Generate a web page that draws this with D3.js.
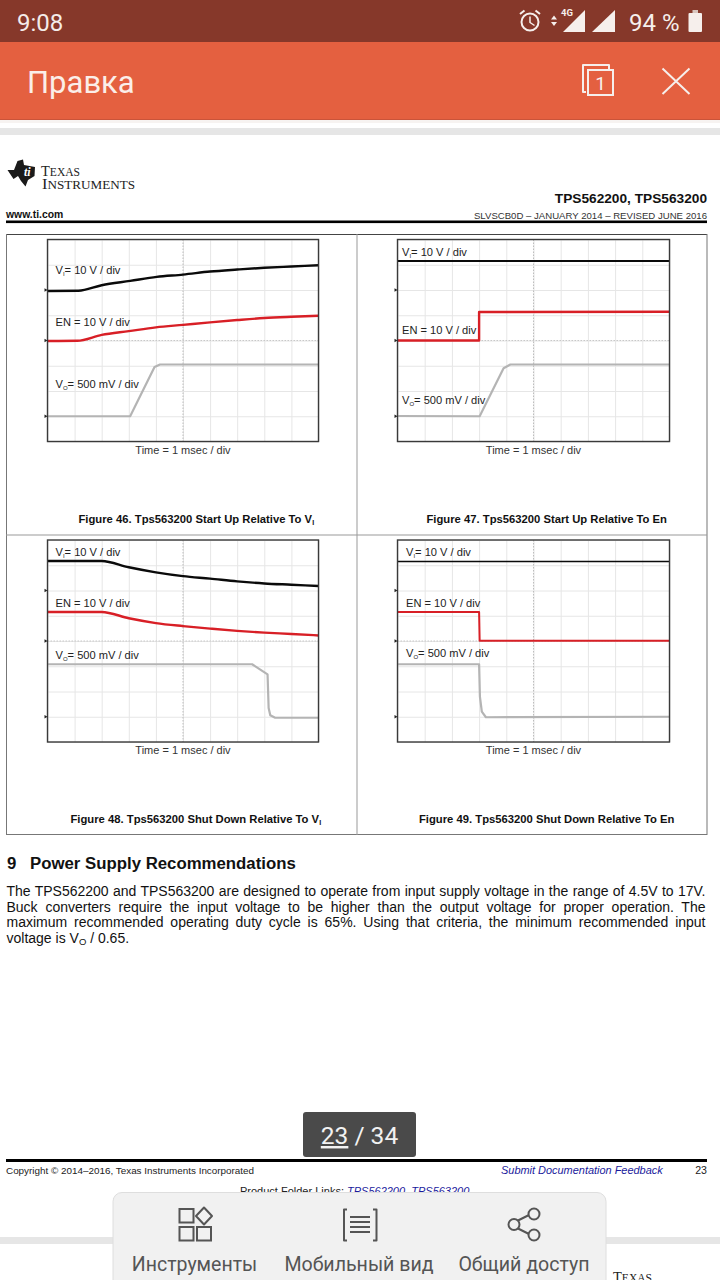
<!DOCTYPE html>
<html><head><meta charset="utf-8">
<script src="https://cdn.jsdelivr.net/npm/d3@7"></script>
<style>html,body{margin:0;padding:0;background:#fff;overflow:hidden}svg{display:block}</style>
</head><body><svg id="c" width="720" height="1280"></svg>
<script>
// Values are [time in div, level in div from bottom of the scope screen]
const fig46_VI=[[0,5.96],[1.14,5.97],[2,6.19],[3.05,6.36],[4.03,6.52],[5,6.61],[6,6.73],[7,6.81],[8,6.88],[9,6.93],[10,6.98]];
const fig46_EN=[[0,3.98],[1.1,3.99],[2,4.22],[3,4.37],[4,4.52],[5,4.62],[6,4.72],[7,4.81],[8,4.89],[9,4.94],[10,4.98]];
const fig46_VO=[[0,1],[3.05,1],[3.95,2.95],[4.15,3.05],[10,3.05]];
const fig47_VI=[[0,7.15],[10,7.15]];
const fig47_EN=[[0,4],[3,4],[3,5.13],[10,5.14]];
const fig47_VO=[[0,1.01],[3.02,1],[3.9,2.9],[4.15,3.05],[10,3.05]];
const fig48_VI=[[0,7.17],[2,7.17],[3,6.92],[4,6.72],[5,6.57],[6,6.47],[7,6.36],[8,6.28],[9,6.23],[10,6.18]];
const fig48_EN=[[0,5.15],[2,5.15],[3,4.9],[4,4.71],[5,4.59],[6,4.49],[7,4.4],[8,4.33],[9,4.28],[10,4.22]];
const fig48_VO=[[0,3.08],[7.55,3.08],[8.12,2.68],[8.16,1.35],[8.22,1.06],[8.4,0.96],[10,0.96]];
const fig49_VI=[[0,7.15],[10,7.15]];
const fig49_EN=[[0,5.15],[3,5.15],[3.02,4.01],[10,4.01]];
const fig49_VO=[[0,3.08],[3,3.08],[3.03,1.8],[3.1,1.2],[3.25,0.98],[10,1]];
const refMarks=[6,4,1];
const timeTicks=[0,1,2,3,4,5,6,7,8,9,10];
const levelTicks=[0,1,2,3,4,5,6,7,8];
const minorTicks=d3.range(0,10.01,0.2);
const minorLevels=d3.range(0,8.01,0.2);

const svg=d3.select('#c');
const SANS='"Liberation Sans",Arial,sans-serif', RB='Roboto,sans-serif', SERIF='"Liberation Serif",serif';
function rect(x,y,w,h,f,r){return svg.append('rect').attr('x',x).attr('y',y).attr('width',w).attr('height',h).attr('fill',f).attr('rx',r||0);}
function txt(s,x,y,size,o){o=o||{};const t=svg.append('text').attr('x',x).attr('y',y).attr('font-size',size)
 .attr('font-family',o.f||SANS).attr('fill',o.c||'#222').attr('text-anchor',o.a||'start');
 if(o.b)t.attr('font-weight','bold'); if(o.i)t.attr('font-style','italic'); t.text(s); return t;}
function path(d,o){o=o||{};return svg.append('path').attr('d',d).attr('fill',o.fill||'none').attr('stroke',o.s||'none').attr('stroke-width',o.w||1).attr('stroke-linejoin','round');}

// Page
rect(0,0,720,1280,'#fff');
rect(0,0,720,42,'#86382a');
rect(0,42,720,78,'#e46040');
rect(0,119,720,1,'#c9543a');
rect(0,120,720,3,'#f7f3f1');
rect(0,128,720,7,'#e6e6e6');

// Status bar
txt('9:08',17,31,24,{f:RB,c:'#f4ece9'});
const W='#f6efec';
svg.append('circle').attr('cx',530).attr('cy',22).attr('r',8.5).attr('fill','none').attr('stroke',W).attr('stroke-width',2);
path('M530 16.5V22.5L534.5 25.5',{s:W,w:1.5});
path('M520 14L524.5 10.5M540 14L535.5 10.5',{s:W,w:2});
path('M551 19.5L554 15.5L557 19.5ZM551 22L554 26L557 22Z',{fill:W});
path('M563 32L585 10V32Z',{fill:W});
txt('4G',561,16,9.5,{f:RB,c:W,b:1});
path('M592 32L615 10V32Z',{fill:W});
txt('94 %',629,31,24,{f:RB,c:W});
rect(688.5,13,13.5,19,W,1); rect(692.5,10,5.5,3,'#d9c6bf');

// Toolbar
txt('Правка',27,93,31,{f:RB,c:'#fbeee9'});
path('M586 92H583V65H609V69',{s:W,w:2});
svg.append('rect').attr('x',588).attr('y',70).attr('width',25).attr('height',25).attr('fill','none').attr('stroke',W).attr('stroke-width',2);
txt('1',600.5,90,19,{f:RB,c:W,a:'middle'});
path('M662.5 68.5L689.5 94M689.5 68.5L662.5 94',{s:W,w:2});

// Logo and header
path('M7.5 170L14 170L17.5 161L23 159.5L24 165L35 167L34.5 176L28 180L25.5 186.5L21 181L18 176L13.5 179Z',{fill:'#1a1a1a'});
txt('ti',24,176,12,{f:SERIF,c:'#fff',b:1,i:1});
function logo(x,y,a,b,big,small,wid){const t=svg.append('text').attr('x',x).attr('y',y).attr('font-family',SERIF).attr('fill','#222')
 .attr('textLength',wid).attr('lengthAdjust','spacingAndGlyphs');
 t.append('tspan').attr('font-size',big).text(a); t.append('tspan').attr('font-size',small).text(b);}
logo(41,176,'T','EXAS',15,12,39);
logo(42,189,'I','NSTRUMENTS',15,12,93);
txt('TPS562200, TPS563200',707,203,13.7,{a:'end',b:1,c:'#111'});
txt('www.ti.com',6,218,10.4,{b:1,c:'#111'});
txt('SLVSCB0D – JANUARY 2014 – REVISED JUNE 2016',707,218.5,9.6,{a:'end',c:'#333'});
rect(6,220.5,701,2.6,'#000');

// Figure frame
rect(6,234,701,1,'#444');
rect(6,834,701,1,'#777');
rect(6,234,1,601,'#777'); rect(706.5,234,1,601,'#777');
rect(356.5,234,1,601,'#999');
rect(6,534.5,701,1,'#999');

function label(x,y,main,sub,rest){const t=svg.append('text').attr('x',x).attr('y',y).attr('font-family',SANS).attr('font-size',11.1).attr('fill','#222');
 t.append('tspan').text(main);
 if(sub){t.append('tspan').attr('font-size',6).attr('dy',2).text(sub); t.append('tspan').attr('dy',-2).text(rest);}
 return t;}

function scope(o){
 const g=svg.append('g');
 const x=d3.scaleLinear().domain([0,10]).range([o.x0,o.x1]);
 const y=d3.scaleLinear().domain([0,8]).range([o.y1,o.y0]);
 const gx=g.append('g').attr('transform',`translate(0,${o.y1})`).call(d3.axisBottom(x).tickValues(timeTicks).tickSize(-(o.y1-o.y0)).tickFormat(''));
 const gy=g.append('g').attr('transform',`translate(${o.x0},0)`).call(d3.axisLeft(y).tickValues(levelTicks).tickSize(-(o.x1-o.x0)).tickFormat(''));
 [gx,gy].forEach(a=>{a.select('.domain').remove();a.selectAll('line').attr('stroke','#e6e6e6').attr('stroke-width',1);});
 g.append('line').attr('x1',x(5)).attr('x2',x(5)).attr('y1',o.y0).attr('y2',o.y1).attr('stroke','#bdbdbd').attr('stroke-dasharray','1.5 1.5');
 g.append('line').attr('x1',o.x0).attr('x2',o.x1).attr('y1',y(4)).attr('y2',y(4)).attr('stroke','#c8c8c8').attr('stroke-dasharray','1.5 1.5');
 // traces
 const ln=d3.line().x(d=>x(d[0])).y(d=>y(d[1]));
 const tr=(data,c,w,smooth)=>g.append('path').attr('d',ln.curve(smooth?d3.curveMonotoneX:d3.curveLinear)(data)).attr('fill','none').attr('stroke',c).attr('stroke-width',w).attr('stroke-linejoin','round');
 tr(o.vo,'#b4b4b4',o.voW||2.2);
 tr(o.en,'#d81f26',o.enW||2.4,o.smooth);
 tr(o.vi,'#0a0a0a',o.viW||2.4,o.smooth);
 g.append('rect').attr('x',o.x0).attr('y',o.y0).attr('width',o.x1-o.x0).attr('height',o.y1-o.y0).attr('fill','none').attr('stroke','#3a3a3a').attr('stroke-width',1.4);
 g.append('g').selectAll('path').data(refMarks).join('path').attr('d',d=>`M${o.x0-3} ${y(d)-1.8}L${o.x0} ${y(d)}L${o.x0-3} ${y(d)+1.8}Z`).attr('fill','#222');
 label(o.lx,o.ly[0],'V','I','= 10 V / div');
 label(o.lx,o.ly[1],'EN = 10 V / div');
 label(o.lx,o.ly[2],'V','O','= 500 mV / div');
 txt('Time = 1 msec / div',(o.x0+o.x1)/2,o.ty,11,{a:'middle',c:'#333'});
 const c=svg.append('text').attr('x',o.cx).attr('y',o.cy).attr('font-family',SANS).attr('font-size',11.25).attr('font-weight','bold').attr('fill','#111');
 c.append('tspan').text(o.cap);
 if(o.capSub)c.append('tspan').attr('font-size',7).attr('dy',2).text(o.capSub);
}
scope({x0:47.5,x1:318.5,y0:239.5,y1:441.5,smooth:true,vi:fig46_VI,en:fig46_EN,vo:fig46_VO,lx:55.5,ly:[274,325.6,387.7],ty:454,cx:78.5,cy:523,cap:'Figure 46. Tps563200 Start Up Relative To V',capSub:'I'});
scope({x0:397.5,x1:669.5,y0:239.5,y1:441.5,vi:fig47_VI,en:fig47_EN,vo:fig47_VO,viW:2,lx:402,ly:[256,333.7,404],ty:454,cx:426.5,cy:523,cap:'Figure 47. Tps563200 Start Up Relative To En'});
scope({x0:47.5,x1:318.5,y0:540,y1:742,smooth:true,vi:fig48_VI,en:fig48_EN,vo:fig48_VO,lx:55.5,ly:[555.5,606.5,658.5],ty:754,cx:70.5,cy:823,cap:'Figure 48. Tps563200 Shut Down Relative To V',capSub:'I'});
scope({x0:397.5,x1:669.5,y0:540,y1:742,vi:fig49_VI,en:fig49_EN,vo:fig49_VO,viW:1.5,enW:2,lx:406,ly:[555.5,606.5,657],ty:754,cx:419,cy:823,cap:'Figure 49. Tps563200 Shut Down Relative To En'});

// Section text
txt('9',7,869,16.8,{b:1,c:'#111'});
txt('Power Supply Recommendations',30,869,16.8,{b:1,c:'#111'});
function just(s,y,w){const t=txt(s,6.5,y,14,{c:'#111'});
 const n=t.node().getComputedTextLength(),k=s.split(' ').length-1;t.attr('word-spacing',(w-n)/k);return t;}
just('The TPS562200 and TPS563200 are designed to operate from input supply voltage in the range of 4.5V to 17V.',896,699);
just('Buck converters require the input voltage to be higher than the output voltage for proper operation. The',911.5,699);
just('maximum recommended operating duty cycle is 65%. Using that criteria, the minimum recommended input',927,699);
const last=svg.append('text').attr('x',6.5).attr('y',942.5).attr('font-family',SANS).attr('font-size',14).attr('fill','#111');
last.append('tspan').text('voltage is V'); last.append('tspan').attr('font-size',9.5).attr('dy',2).text('O'); last.append('tspan').attr('dy',-2).text(' / 0.65.');

// Footer
rect(6,1159,701,3,'#000');
txt('Copyright © 2014–2016, Texas Instruments Incorporated',6,1174,9.9,{c:'#222'});
txt('Submit Documentation Feedback',501,1174,10.95,{c:'#1a1a9c',i:1});
txt('23',707,1174,10.6,{a:'end',c:'#222'});
const pf=svg.append('text').attr('x',240).attr('y',1195).attr('font-family',SANS).attr('font-size',11).attr('fill','#222');
pf.append('tspan').text('Product Folder Links: ');
pf.append('tspan').attr('fill','#1a1a9c').attr('font-style','italic').text('TPS562200');
pf.append('tspan').text(', ');
pf.append('tspan').attr('fill','#1a1a9c').attr('font-style','italic').text('TPS563200');

// Next page start
rect(0,1237,720,7,'#e6e6e6');
logo(613,1282,'T','EXAS',15,12,39);

// Page pill
rect(303,1112,113,45,'#4a4a4a',3);
const pill=svg.append('text').attr('x',359.5).attr('y',1144).attr('text-anchor','middle').attr('font-family',RB).attr('font-size',24.5).attr('fill','#f2f2f2');
pill.append('tspan').attr('text-decoration','underline').text('23'); pill.append('tspan').text(' / 34');

// Bottom sheet
svg.append('rect').attr('x',113).attr('y',1192.5).attr('width',493).attr('height',100).attr('rx',9).attr('fill','#f1f1f1').attr('stroke','#dedede');
const IC='#555';
[[179.5,1209],[179.5,1227],[197,1227]].forEach(p=>svg.append('rect').attr('x',p[0]).attr('y',p[1]).attr('width',14).attr('height',13.5).attr('fill','none').attr('stroke',IC).attr('stroke-width',2));
path('M204 1207.5L212 1216L204 1224.5L196 1216Z',{s:IC,w:2});
path('M347 1209.5H344V1240.5H347M373 1209.5H376.5V1240.5H373',{s:IC,w:2});
path('M350 1217H370M350 1222H370M350 1227H370M350 1232H370',{s:IC,w:2});
path('M515 1222L531 1214M515 1227L531 1235',{s:IC,w:2});
[[534,1214],[514,1224.5],[534,1235]].forEach(p=>svg.append('circle').attr('cx',p[0]).attr('cy',p[1]).attr('r',5.5).attr('fill','#f1f1f1').attr('stroke',IC).attr('stroke-width',2));
txt('Инструменты',194.5,1271,19.5,{f:RB,c:'#555',a:'middle'});
txt('Мобильный вид',359,1271,19.6,{f:RB,c:'#555',a:'middle'});
txt('Общий доступ',524,1271,19.6,{f:RB,c:'#555',a:'middle'});
</script></body></html>
